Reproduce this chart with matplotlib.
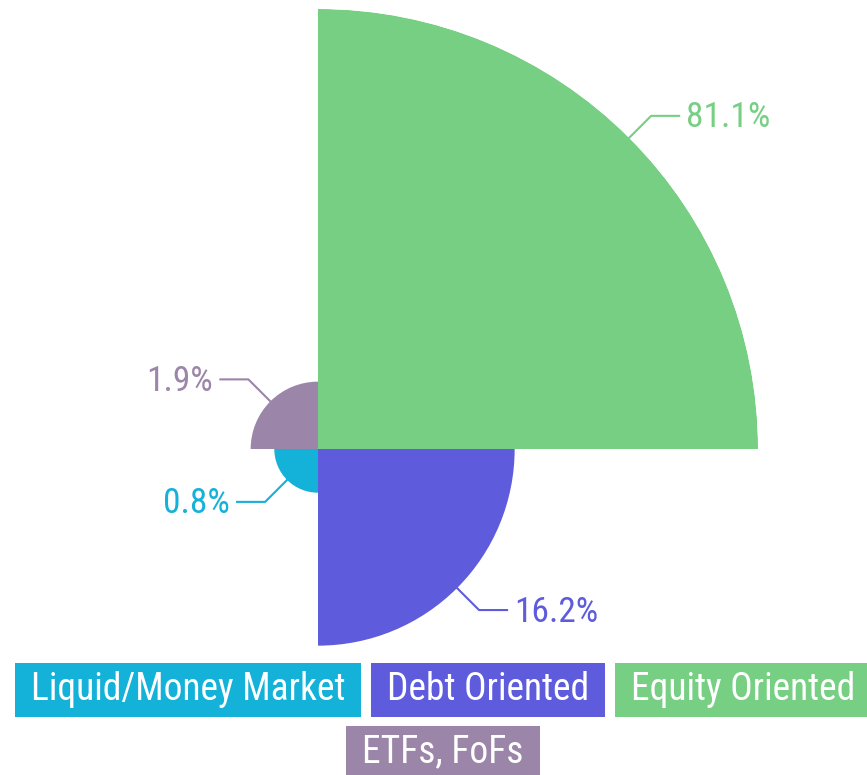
import numpy as np
import matplotlib
matplotlib.use("Agg")
import matplotlib.pyplot as plt
from matplotlib.lines import Line2D
from matplotlib.patches import Rectangle

plt.rcParams["font.family"] = ["Liberation Sans Narrow", "Roboto Condensed", "DejaVu Sans"]
plt.rcParams["font.stretch"] = "condensed"

# -----------------------------
# Data
# -----------------------------
categories = ["Equity Oriented", "ETFs, FoFs", "Liquid/Money Market", "Debt Oriented"]
values = [81.1, 1.9, 0.8, 16.2]
colors = ["#76cf82", "#9b85a8", "#14b1d9", "#5e5cdc"]
labels = ["81.1%", "1.9%", "0.8%", "16.2%"]

legend_rows = [["Liquid/Money Market", "Debt Oriented", "Equity Oriented"], ["ETFs, FoFs"]]

W, H = 867, 775
DPI = 100

fig = plt.figure(figsize=(W / DPI, H / DPI), dpi=DPI)

# polar axes: centre at (318, 449) px from top-left, radius 440 px
cx, cy, R = 318, H - 449, 440
ax = fig.add_axes([(cx - R) / W, (cy - R) / H, 2 * R / W, 2 * R / H], projection="polar")

n = len(values)
theta = np.deg2rad(45 + 90 * np.arange(n))
radii = np.sqrt(values)  # area proportional
ax.bar(theta, radii, width=np.pi / 2, color=colors, edgecolor="none", linewidth=0)
ax.set_ylim(0, max(radii))
ax.set_axis_off()

# -----------------------------
# Leader lines + labels
# -----------------------------
fig.canvas.draw()
renderer = fig.canvas.get_renderer()
to_fig = fig.transFigure.inverted()
for th, r, lab, col in zip(theta, radii, labels, colors):
    px, py = ax.transData.transform((th, r))
    sx = 1 if np.cos(th) > 0 else -1
    sy = 1 if np.sin(th) > 0 else -1
    d = 22
    ex, ey = px + sx * d, py + sy * d
    hx = ex + sx * 28
    pts = to_fig.transform([(px, py), (ex, ey), (hx, ey)])
    fig.add_artist(Line2D(pts[:, 0], pts[:, 1], color=col, lw=1.5))
    tx, ty = to_fig.transform((hx + sx * 7, ey - 2))
    fig.text(tx, ty, lab, color=col, fontsize=25.5,
             ha="left" if sx > 0 else "right", va="center")

# -----------------------------
# Legend boxes (centred rows)
# -----------------------------
LEG_CX = 443
PAD_X = 16
GAP = 10
BOX_H = 54
row_tops = [663, 726]

for row, top in zip(legend_rows, row_tops):
    texts = []
    widths = []
    for name in row:
        t = fig.text(0, 0, name, color="white", fontsize=27, ha="center", va="center", zorder=3)
        texts.append(t)
        widths.append(t.get_window_extent(renderer).width + 2 * PAD_X)
    total = sum(widths) + GAP * (len(row) - 1)
    x = LEG_CX - total / 2
    yc = H - (top + BOX_H / 2)
    for name, t, w in zip(row, texts, widths):
        col = colors[categories.index(name)]
        fig.add_artist(Rectangle((x / W, (H - top - BOX_H) / H), w / W, BOX_H / H,
                                 transform=fig.transFigure, fc=col, ec="none", zorder=2))
        t.set_position(((x + w / 2) / W, (yc + 1) / H))
        x += w + GAP

fig.savefig("out.png", dpi=DPI)
